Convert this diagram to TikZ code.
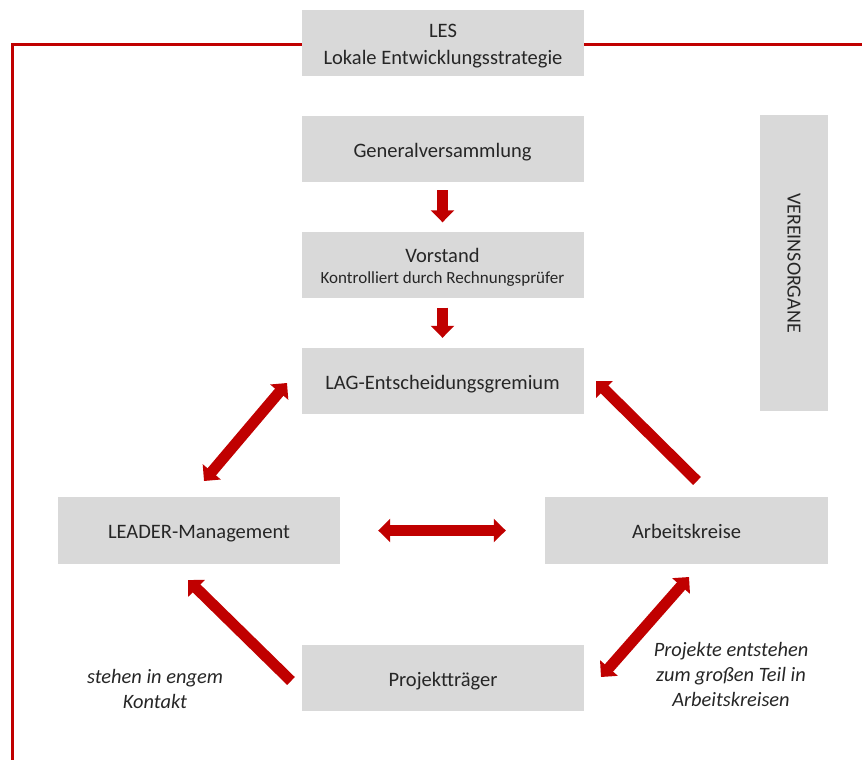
\documentclass[tikz,border=0pt]{standalone}
\usepackage{fontspec}
\setmainfont{Carlito}
\usetikzlibrary{arrows.meta,calc}
\definecolor{boxgray}{HTML}{D9D9D9}
\definecolor{dred}{HTML}{C00000}
\definecolor{txt}{HTML}{262626}
\newcommand{\lowered}[1]{\raisebox{0pt}[\dimexpr\height+6pt\relax]{\begin{tabular}{@{}c@{}}#1\end{tabular}}}
\tikzset{
  box/.style={rectangle, fill=boxgray, draw=none, minimum width=282pt, minimum height=66pt, text=txt, font=\fontsize{20.5}{27}\selectfont, align=center, inner sep=0pt},
  bigarrow/.style={draw=dred, line width=11pt, -{Triangle[length=12pt,width=23pt]}},
  dblarrow/.style={draw=dred, line width=11pt, {Triangle[length=12pt,width=23pt]}-{Triangle[length=12pt,width=23pt]}},
  frameline/.style={draw=dred, line width=3pt},
  note/.style={text=txt, font=\fontsize{20.4}{25}\selectfont\itshape, align=center}
}
\begin{document}
\begin{tikzpicture}[x=1pt,y=-1pt]
\useasboundingbox (0,0) rectangle (862,760);
\node[box] (les) at (443,43) {\lowered{LES\\Lokale Entwicklungsstrategie}};
\node[box] (gen) at (442.5,149) {\lowered{Generalversammlung}};
\node[box] (vor) at (442.5,264.5) {\lowered{Vorstand\\[-6pt]{\fontsize{17}{20}\selectfont Kontrolliert durch Rechnungsprüfer}}};
\node[box] (lag) at (442.5,381) {\lowered{LAG-Entscheidungsgremium}};
\node[box, minimum width=68pt, minimum height=296pt] (ver) at (794,263) {};
\node[text=txt, font=\fontsize{20}{24}\selectfont, rotate=-90] (vertext) at (ver.center) {VEREINSORGANE};
\node[box, minimum height=67pt] (lead) at (199,530.5) {\lowered{LEADER-Management}};
\node[box, minimum width=283pt, minimum height=67pt] (ak) at (686.5,530.5) {\lowered{Arbeitskreise}};
\node[box] (pt) at (443,678) {\lowered{Projektträger}};

\coordinate (fl1) at (12,45);
\coordinate (fl2) at (12,760);
\coordinate (fr1) at (862,45);
\draw[frameline] (les.west |- fl1) -- (fl1) -- (fl2);
\draw[frameline] (les.east |- fr1) -- (fr1);

\draw[bigarrow, shorten <=8pt, shorten >=9pt] (gen.south) -- (vor.north);
\draw[bigarrow, shorten <=10pt, shorten >=10pt] (vor.south) -- (lag.north);
\draw[dblarrow, shorten <=38pt, shorten >=39pt] (lead.east) -- (ak.west);

\coordinate (a1) at (287,383);
\coordinate (a2) at (204,481);
\draw[dblarrow] (a1) -- (a2);
\coordinate (b1) at (697,481);
\coordinate (b2) at (596,381);
\draw[bigarrow] (b1) -- (b2);
\coordinate (c1) at (291,681);
\coordinate (c2) at (188,580);
\draw[bigarrow] (c1) -- (c2);
\coordinate (d1) at (601,677);
\coordinate (d2) at (689,577);
\draw[dblarrow] (d1) -- (d2);

\node[note] (n1) at (155,689) {stehen in engem\\Kontakt};
\node[note] (n2) at (731,674) {Projekte entstehen\\zum großen Teil in\\Arbeitskreisen};
\end{tikzpicture}
\end{document}
